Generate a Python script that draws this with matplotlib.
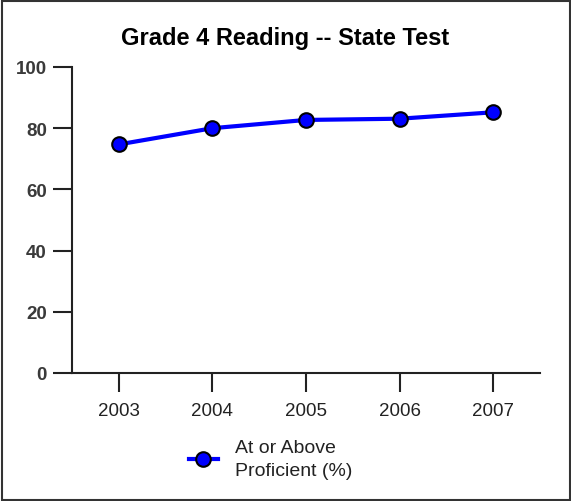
import matplotlib.pyplot as plt
from matplotlib.patches import Rectangle
from matplotlib.lines import Line2D

# Data
years = [2003, 2004, 2005, 2006, 2007]
proficient = [74.7, 80.0, 82.7, 83.1, 85.2]
year_labels = ['2003', '2004', '2005', '2006', '2007']
y_ticks = [0, 20, 40, 60, 80, 100]

plt.rcParams['font.family'] = ['Liberation Sans', 'DejaVu Sans']

fig = plt.figure(figsize=(5.71, 5.02), dpi=100)
ax = fig.add_axes([72 / 571, 128 / 502, 468 / 571, 306 / 502])

ax.plot(years, proficient, color='#0000ff', linewidth=3,
        marker='o', markersize=10.5, markerfacecolor='#0000ff',
        markeredgecolor='black', markeredgewidth=1.5, zorder=3)

ax.set_xlim(2002.5, 2007.5)
ax.set_ylim(0, 100)
ax.set_xticks(years)
ax.set_xticklabels(year_labels)
ax.set_yticks(y_ticks)

for s in ['top', 'right']:
    ax.spines[s].set_visible(False)
for s in ['left', 'bottom']:
    ax.spines[s].set_color('#222222')
    ax.spines[s].set_linewidth(1.5)

ax.tick_params(axis='x', length=14, width=1.5, color='#222222',
               labelsize=13.5, labelcolor='#222222', pad=7)
ax.tick_params(axis='y', length=14, width=1.5, color='#222222',
               labelsize=13.5, labelcolor='#3a3a3a', pad=4)
for lbl in ax.get_yticklabels():
    lbl.set_fontweight('bold')

fig.text(0.5, 1 - 39 / 502, 'Grade 4 Reading -- State Test',
         ha='center', va='center', fontsize=17, fontweight='bold')

# legend
handle = Line2D([0], [0], color='#0000ff', linewidth=3, marker='o',
                markersize=10.5, markerfacecolor='#0000ff',
                markeredgecolor='black', markeredgewidth=1.5)
leg = fig.legend([handle], ['At or Above\nProficient (%)'],
                 loc='center left', bbox_to_anchor=(171 / 571, 1 - 460 / 502),
                 frameon=False, fontsize=14, handlelength=1.5,
                 handletextpad=0.9)
for t in leg.get_texts():
    t.set_linespacing(1.4)
    t.set_color('#222222')

# outer frame
fig.patches.append(Rectangle((1.5 / 571, 1.5 / 502), 568 / 571, 499 / 502,
                             transform=fig.transFigure, fill=False,
                             edgecolor='#333333', linewidth=1.5))

fig.savefig('out.png', dpi=100)
